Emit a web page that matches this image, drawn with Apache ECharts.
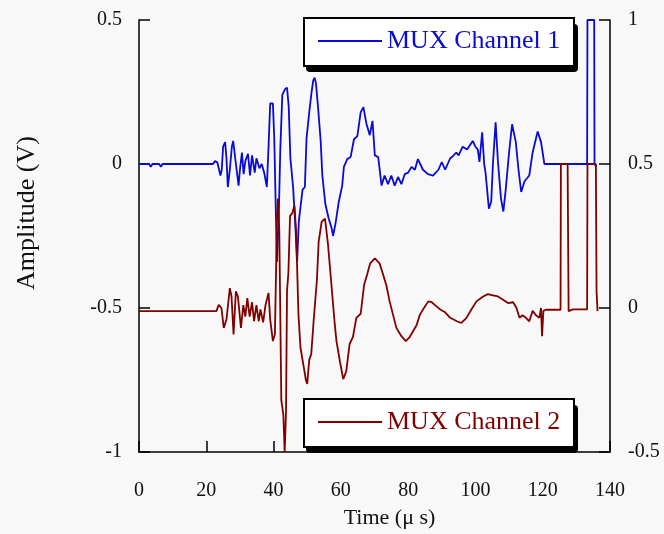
<!DOCTYPE html>
<html>
<head>
<meta charset="utf-8">
<script src="https://cdn.jsdelivr.net/npm/echarts@6/dist/echarts.min.js"></script>
<style>
  html, body { margin: 0; padding: 0; background: #f8f8f8; }
  #chart { width: 664px; height: 534px; }
</style>
</head>
<body>
<div id="chart"></div>
<script>
// --- series names --- //
const seriesNames = ['MUX Channel 1', 'MUX Channel 2'];

// --- channel 1 : [time (us), amplitude (V)] on the left axis --- //
const channel1 = [
  [0, 0], [3, 0], [3.5, -0.01], [4, 0], [6, 0], [6.5, -0.01], [7, 0], [22, 0],
  [22.6, 0.01], [23.3, 0.005], [24.2, -0.04], [24.6, -0.02], [25, 0.06], [25.6, 0.076],
  [26, 0.02], [26.4, -0.08], [27, -0.02], [27.6, 0.06], [28, 0.08], [28.6, 0.02],
  [29.6, -0.075], [30, -0.02], [30.6, 0.04], [31.1, -0.035], [31.6, 0.01], [32.4, 0.035],
  [33, -0.04], [33.6, 0.03], [34.4, -0.03], [34.9, 0.02], [35.8, -0.015], [36.5, 0.0],
  [37.3, -0.035], [38, -0.08], [38.5, 0.06], [39, 0.21], [39.8, 0.21], [40.2, 0.09],
  [41, -0.34], [41.5, -0.2], [42, 0.05], [42.6, 0.24], [43.4, 0.26], [44, 0.265],
  [44.5, 0.2], [45, 0.02], [45.8, -0.08], [46.4, -0.2], [47, -0.34], [47.5, -0.2],
  [48, -0.15], [48.6, -0.09], [49.3, -0.08], [49.8, 0.09], [50.7, 0.19], [51.3, 0.25],
  [51.8, 0.29], [52.2, 0.30], [52.6, 0.28], [53.2, 0.2], [54, 0.08], [54.5, -0.04],
  [55.4, -0.14], [56.4, -0.19], [57.2, -0.22], [57.7, -0.25], [58.5, -0.2], [59.4, -0.13],
  [60.4, -0.075], [60.9, -0.01], [61.9, 0.017], [62.9, 0.024], [63.9, 0.086], [64.9, 0.097],
  [65.9, 0.18], [66.7, 0.197], [67.6, 0.14], [68.6, 0.1], [69.4, 0.15], [70.1, 0.03],
  [71.1, 0.024], [72.1, -0.075], [73, -0.04], [74, -0.07], [75, -0.04], [76, -0.075],
  [77, -0.045], [78, -0.07], [79, -0.035], [80, -0.03], [81, -0.01], [82, -0.02],
  [82.9, 0.017], [84.4, -0.02], [85.9, -0.035], [87.4, -0.04], [89, -0.02], [90, 0.007],
  [91, -0.02], [92.5, 0.02], [93.3, 0.027], [94.3, 0.04], [95, 0.03], [96.2, 0.06],
  [97.5, 0.05], [99.2, 0.08], [100, 0.06], [100.7, 0.05], [101.2, 0.007], [102, 0.11],
  [102.6, 0.0], [103, -0.03], [104, -0.155], [104.7, -0.13], [105.2, 0.0], [106, 0.145],
  [106.7, 0.007], [107.6, -0.12], [108.3, -0.165], [109, -0.09], [110, 0.04], [110.9, 0.138],
  [112, 0.076], [112.8, -0.02], [113.6, -0.097], [114.6, -0.06], [116, -0.04], [117, 0.04],
  [118.5, 0.113], [119.5, 0.076], [120.5, 0.0], [133.2, 0], [133.3, 0.5], [135.3, 0.5],
  [135.4, 0], [136, -0.01]
];

// --- channel 2 : [time (us), amplitude (V)] on the right axis --- //
const channel2 = [
  [0, -0.011], [23, -0.011], [23.7, 0.011], [24.5, 0.0], [25.2, -0.069], [26, -0.04],
  [27, 0.069], [27.5, 0.04], [28.1, -0.092], [28.8, 0.058], [29.4, 0.04], [30.3, -0.069],
  [31, 0.01], [31.6, -0.03], [32.2, 0.034], [32.9, -0.03], [33.6, 0.02], [34.2, -0.046],
  [34.9, 0.01], [35.6, -0.046], [36.1, -0.005], [36.9, -0.05], [37.6, 0.01], [38.5, 0.052],
  [39, -0.04], [39.8, -0.115], [40.4, -0.09], [41, 0.3], [41.3, 0.38], [41.7, 0.27],
  [42.3, -0.32], [42.9, -0.37], [43.3, -0.5], [43.7, -0.36], [44, 0.06], [44.4, 0.12],
  [44.9, 0.32], [45.6, 0.33], [46.2, 0.356], [46.7, 0.265], [47.4, -0.023], [48, -0.138],
  [49, -0.207], [49.6, -0.25], [50, -0.264], [50.6, -0.18], [51.2, -0.16], [51.9, -0.046],
  [52.9, 0.1], [53.4, 0.23], [54.3, 0.3], [55.3, 0.31], [56.2, 0.218], [57.2, 0.08],
  [58.2, -0.058], [58.7, -0.115], [59.7, -0.184], [60.7, -0.247], [61.6, -0.22], [62.6, -0.125],
  [63.6, -0.1], [64.6, -0.034], [65.9, -0.02], [66.9, 0.08], [67.9, 0.12], [68.7, 0.155],
  [70.1, 0.172], [70.4, 0.172], [71.5, 0.155], [72.3, 0.126], [73.5, 0.08], [74.5, 0.023],
  [75.5, -0.023], [76.5, -0.069], [78, -0.098], [79.3, -0.115], [80.5, -0.1], [81.5, -0.08],
  [82.5, -0.06], [83.5, -0.023], [84.7, 0.0], [86, 0.023], [87, 0.02], [88, 0.01],
  [89.5, -0.005], [91, -0.015], [92.5, -0.034], [94.5, -0.046], [95.8, -0.052], [97.3, -0.035],
  [98.8, -0.005], [100.3, 0.023], [102.3, 0.04], [103.7, 0.048], [105.2, 0.044], [106.7, 0.04],
  [108.2, 0.029], [109.7, 0.017], [111.2, 0.02], [112.2, 0.0], [113.1, -0.034], [114, -0.025],
  [115, -0.034], [116, -0.046], [117, -0.01], [118, -0.025], [119, -0.034], [119.5, 0.0],
  [119.8, -0.098], [120.2, -0.01], [121, -0.006], [125.3, -0.006], [125.4, 0.5], [127.4, 0.5],
  [127.7, -0.011], [129, -0.005], [133.2, -0.005], [133.3, 0.5], [135.8, 0.5], [136, 0.058],
  [136.3, -0.011]
];

// --- axis ranges : min, max, interval --- //
const xRange = [0, 140, 20];
const leftRange = [-1, 0.5, 0.5];
const rightRange = [-0.5, 1, 0.5];

const serif = 'Liberation Serif';
const blue = '#0a0ad6';
const red = '#800000';

// legend items sit inside framed boxes drawn as graphics
function legendItem(name, top, color) {
  return {
    data: [name],
    left: 303,
    top: top,
    icon: 'rect',
    itemWidth: 64,
    itemHeight: 2,
    selectedMode: false,
    textStyle: { fontFamily: serif, fontSize: 26, color: color, lineHeight: 28 },
    backgroundColor: 'transparent',
    borderWidth: 0,
    padding: [10, 0, 10, 15],
    z: 10
  };
}

function legendFrame(top) {
  return [
    { type: 'rect', left: 306, top: top + 7, z: 5,
      shape: { width: 272, height: 48, r: 4 },
      style: { fill: '#000' } },
    { type: 'rect', left: 303, top: top, z: 6,
      shape: { width: 270, height: 48 },
      style: { fill: '#fff', stroke: '#000', lineWidth: 2 } }
  ];
}

const axisCommon = {
  axisLine: { show: true, onZero: false, lineStyle: { color: '#000', width: 1.5 } },
  axisTick: { show: true, inside: true, length: 11, lineStyle: { color: '#000', width: 1.5 } },
  splitLine: { show: false },
  axisLabel: { fontFamily: serif, fontSize: 20, color: '#111' }
};

const option = {
  backgroundColor: '#f8f8f8',
  animation: false,
  grid: { left: 139, right: 54, top: 20, bottom: 77 },
  graphic: [].concat(legendFrame(17), legendFrame(398)),
  legend: [
    legendItem(seriesNames[0], 17, blue),
    legendItem(seriesNames[1], 398, red)
  ],
  xAxis: {
    type: 'value',
    min: xRange[0], max: xRange[1], interval: xRange[2],
    name: 'Time (μ s)',
    nameLocation: 'middle',
    nameGap: 55,
    nameTextStyle: { fontFamily: serif, fontSize: 22, color: '#111', padding: [0, 0, 0, 30] },
    ...axisCommon,
    axisLabel: { ...axisCommon.axisLabel, margin: 29 }
  },
  yAxis: [
    {
      type: 'value',
      position: 'left',
      min: leftRange[0], max: leftRange[1], interval: leftRange[2],
      name: 'Amplitude (V)',
      nameLocation: 'middle',
      nameGap: 99,
      nameTextStyle: { fontFamily: serif, fontSize: 26, color: '#111', padding: [0, 0, 0, 46] },
      ...axisCommon,
      axisLabel: { ...axisCommon.axisLabel, margin: 17 }
    },
    {
      type: 'value',
      position: 'right',
      min: rightRange[0], max: rightRange[1], interval: rightRange[2],
      ...axisCommon,
      axisLabel: { ...axisCommon.axisLabel, margin: 18 }
    }
  ],
  series: [
    {
      name: seriesNames[0],
      type: 'line',
      yAxisIndex: 0,
      data: channel1,
      showSymbol: false,
      symbol: 'none',
      color: blue,
      lineStyle: { width: 1.8, color: blue }
    },
    {
      name: seriesNames[1],
      type: 'line',
      yAxisIndex: 1,
      data: channel2,
      showSymbol: false,
      symbol: 'none',
      color: red,
      lineStyle: { width: 1.8, color: red }
    }
  ]
};

const chart = echarts.init(document.getElementById('chart'));
chart.setOption(option);
</script>
</body>
</html>
